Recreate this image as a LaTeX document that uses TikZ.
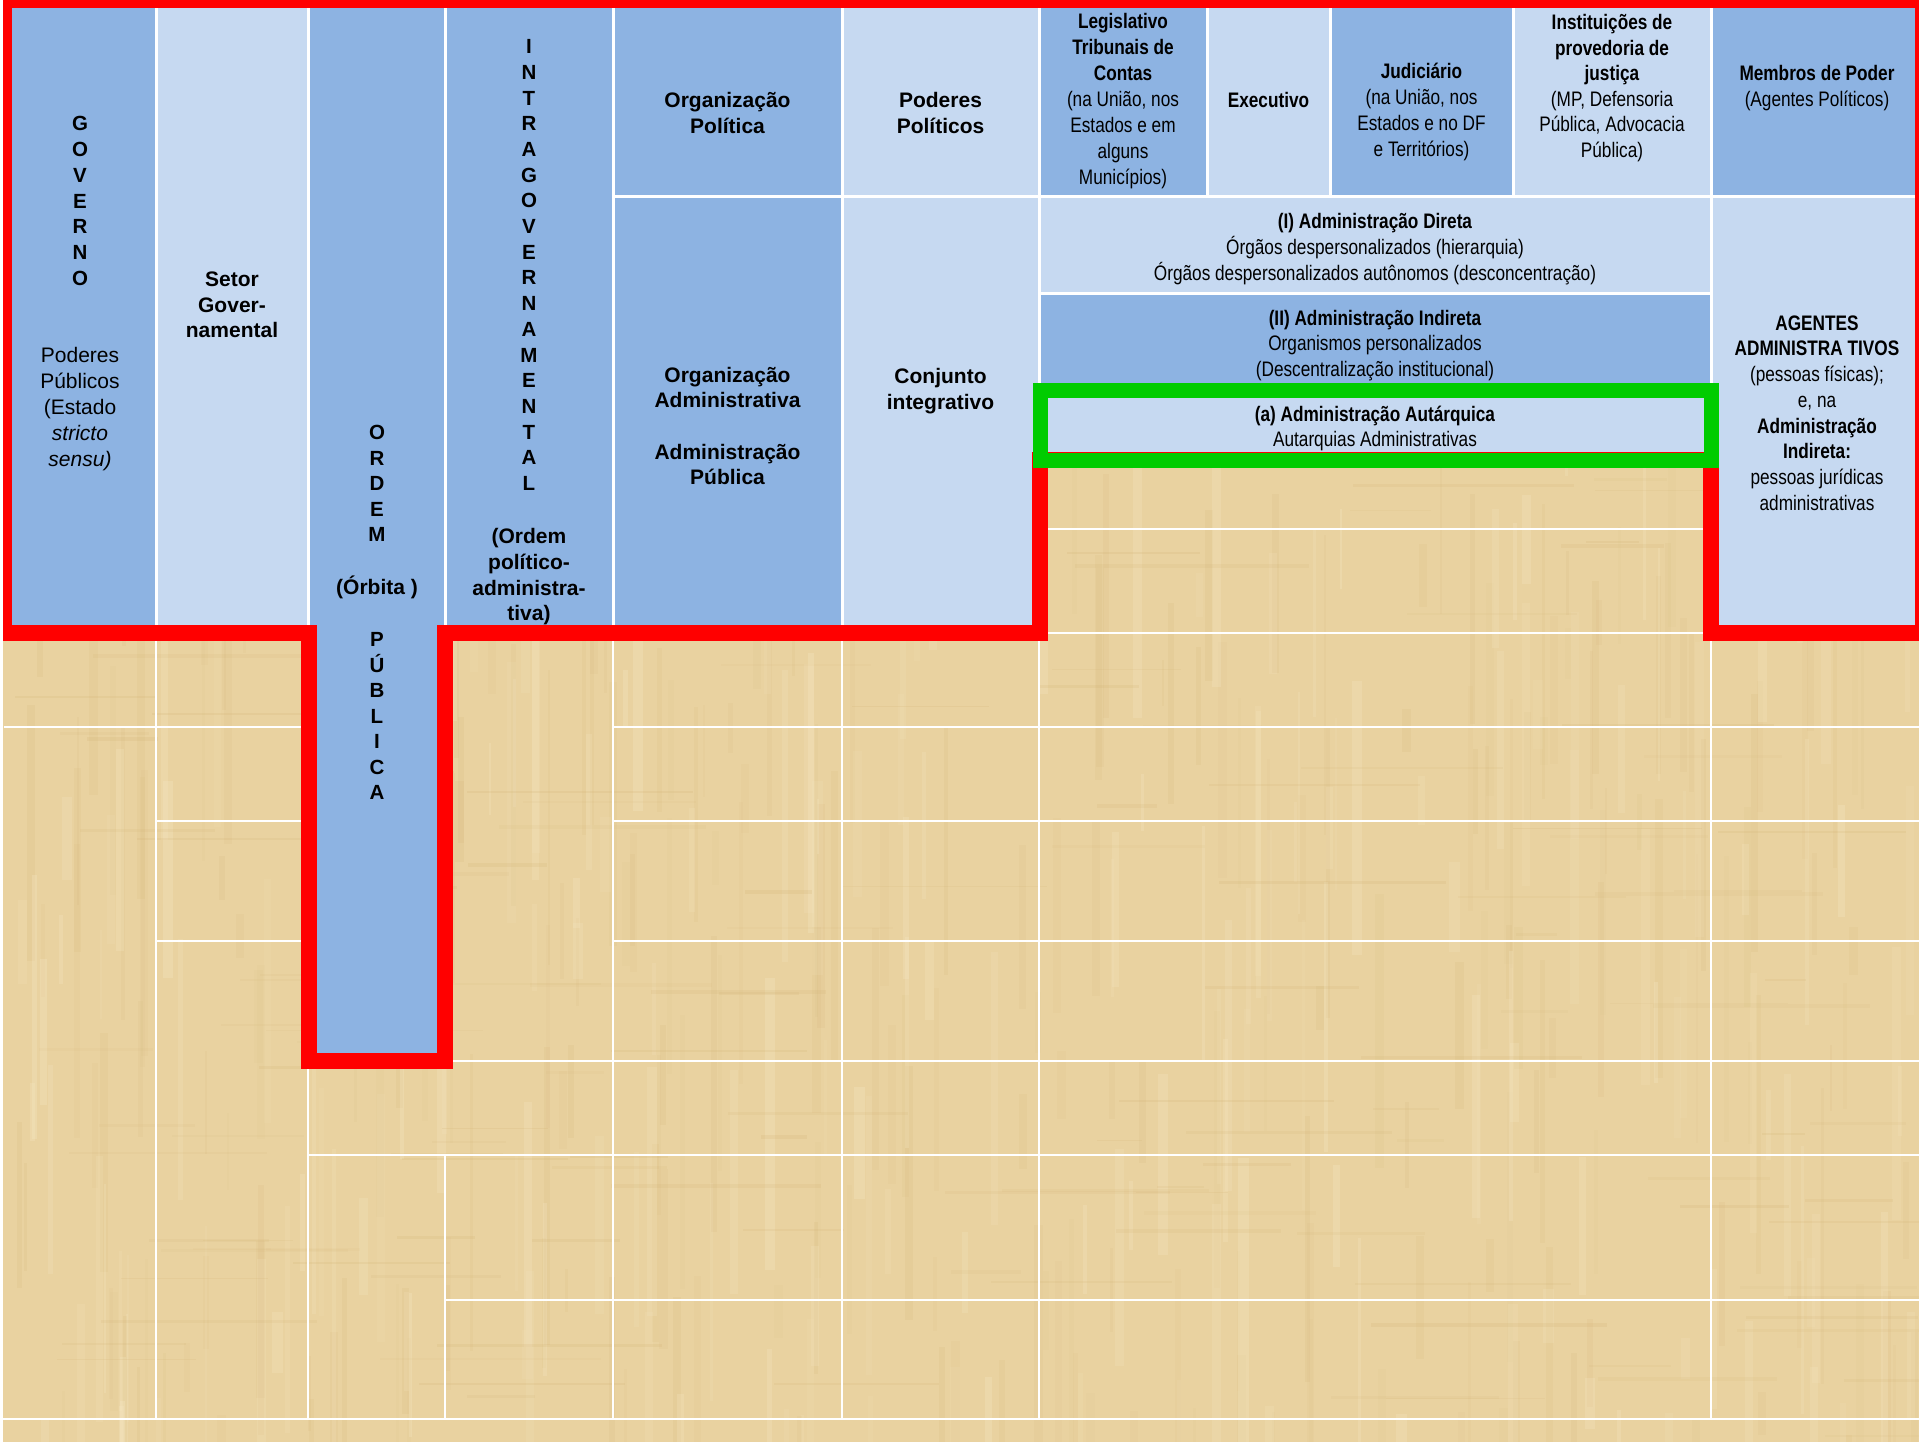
\documentclass[tikz,border=0pt]{standalone}
\usepackage{fontspec}
\setmainfont{Liberation Sans}
\newfontfamily\narrowfont[FakeStretch=0.82]{Liberation Sans}
\definecolor{dk}{HTML}{8DB3E2}
\definecolor{lt}{HTML}{C6D9F1}
\definecolor{sand}{HTML}{E9D2A0}
\definecolor{sandD}{HTML}{CFAE6E}
\definecolor{sandL}{HTML}{F6E8C4}
\definecolor{grn}{HTML}{00CC00}
\tikzset{
  cellD/.style={fill=dk, draw=white, line width=3pt},
  cellL/.style={fill=lt, draw=white, line width=3pt},
  gridline/.style={draw=white, line width=2pt},
  txt/.style={inner sep=0pt, align=center, font=\fontsize{21}{25.7}\selectfont},
  btxt/.style={inner sep=0pt, align=center, font=\bfseries\fontsize{21}{25.7}\selectfont},
  ntxt/.style={inner sep=0pt, align=center, font=\narrowfont\fontsize{21}{25.7}\selectfont},
  nbtxt/.style={inner sep=0pt, align=center, font=\narrowfont\bfseries\fontsize{21}{25.7}\selectfont},
  stack/.style={inner sep=0pt, align=center, font=\bfseries\fontsize{20.5}{25.7}\selectfont},
  redline/.style={draw=red, line width=16pt},
  greenline/.style={draw=grn, line width=15pt},
}
\begin{document}
\begin{tikzpicture}[x=1pt,y=-1pt]
\useasboundingbox (0,0) rectangle (1919,1442);
% background papyrus
\fill[white] (0,0) rectangle (1919,1442);
\fill[sand] (3,0) rectangle (1919,1442);
\pgfmathsetseed{12}
\foreach \i in {1,...,260}{
  \pgfmathsetmacro{\xa}{3+1910*rnd}
  \pgfmathsetmacro{\wa}{2+7*rnd}
  \pgfmathsetmacro{\ya}{400+1040*rnd}
  \pgfmathsetmacro{\ha}{40+260*rnd}
  \pgfmathsetmacro{\oa}{0.04+0.09*rnd}
  \fill[sandD,opacity=\oa] (\xa,\ya) rectangle ++(\wa,\ha);
}
\foreach \i in {1,...,200}{
  \pgfmathsetmacro{\xa}{3+1910*rnd}
  \pgfmathsetmacro{\wa}{2+9*rnd}
  \pgfmathsetmacro{\ya}{400+1040*rnd}
  \pgfmathsetmacro{\ha}{40+260*rnd}
  \pgfmathsetmacro{\oa}{0.10+0.2*rnd}
  \fill[sandL,opacity=\oa] (\xa,\ya) rectangle ++(\wa,\ha);
}
\foreach \i in {1,...,160}{
  \pgfmathsetmacro{\xa}{3+1850*rnd}
  \pgfmathsetmacro{\wa}{40+200*rnd}
  \pgfmathsetmacro{\ya}{400+1040*rnd}
  \pgfmathsetmacro{\ha}{1+3*rnd}
  \pgfmathsetmacro{\oa}{0.06+0.12*rnd}
  \fill[sandD,opacity=\oa] (\xa,\ya) rectangle ++(\wa,\ha);
}
% grid lines on the papyrus
\draw[gridline] (4,727) -- (308,727);
\draw[gridline] (613,727) -- (1919,727);
\draw[gridline] (156,821) -- (308,821);
\draw[gridline] (613,821) -- (1919,821);
\draw[gridline] (156,941) -- (308,941);
\draw[gridline] (613,941) -- (1919,941);
\draw[gridline] (445,1061) -- (1919,1061);
\draw[gridline] (308,1155) -- (1919,1155);
\draw[gridline] (445,1300) -- (1919,1300);
\draw[gridline] (3,1419) -- (1919,1419);
\draw[gridline] (1039,529) -- (1711,529);
\draw[gridline] (1039,633) -- (1711,633);
\draw[gridline] (156,633) -- (156,1419);
\draw[gridline] (308,1061) -- (308,1419);
\draw[gridline] (445,1155) -- (445,1419);
\draw[gridline] (613,633) -- (613,1419);
\draw[gridline] (842,633) -- (842,1419);
\draw[gridline] (1039,460) -- (1039,1419);
\draw[gridline] (1711,460) -- (1711,1419);
% cells
\path[cellD] (0,-10) rectangle (156,633);
\path[cellL] (156,-10) rectangle (308,633);
\path[cellD] (308,-10) rectangle (445,1061);
\path[cellD] (445,-10) rectangle (613,633);
\path[cellD] (613,-10) rectangle (842,197);
\path[cellL] (842,-10) rectangle (1039,197);
\path[cellD] (613,197) rectangle (842,633);
\path[cellL] (842,197) rectangle (1039,633);
\path[cellD] (1039,-10) rectangle (1207,197);
\path[cellL] (1207,-10) rectangle (1330,197);
\path[cellD] (1330,-10) rectangle (1513,197);
\path[cellL] (1513,-10) rectangle (1711,197);
\path[cellD] (1711,-10) rectangle (1930,197);
\path[cellL] (1711,197) rectangle (1930,633);
\path[cellL] (1039,197) rectangle (1711,293);
\path[cellD] (1039,293) rectangle (1711,390);
\path[cellL] (1039,390) rectangle (1711,460);
% texts
\node[stack] (govL) at (80,201) {G\\O\\V\\E\\R\\N\\O};
\node[txt,font=\fontsize{21}{26}\selectfont] (govT) at (80,409) {Poderes\\Públicos\\(Estado\\\textit{stricto}\\\textit{sensu)}};
\node[btxt] (setor) at (232,305) {Setor\\Gover-\\namental};
\node[stack,font=\bfseries\fontsize{20.5}{25.4}\selectfont] (ordemL) at (377,483.5) {O\\R\\D\\E\\M};
\node[btxt] (orbita) at (377,587) {(Órbita )};
\node[stack,font=\bfseries\fontsize{20.5}{25.5}\selectfont] (publica) at (377,716) {P\\Ú\\B\\L\\I\\C\\A};
\node[stack] (intraL) at (529,265) {I\\N\\T\\R\\A\\G\\O\\V\\E\\R\\N\\A\\M\\E\\N\\T\\A\\L};
\node[btxt] (intraT) at (529,577) {(Ordem\\político-\\administra-\\tiva)};
\node[btxt] (orgpol) at (727.5,112.7) {Organização\\Política};
\node[btxt] (podpol) at (940.5,112.7) {Poderes\\Políticos};
\node[btxt] (orgadm) at (727.5,426) {Organização\\Administrativa\\[25.7pt]Administração\\Pública};
\node[btxt] (conj) at (940.5,391) {Conjunto\\integrativo};
\node[ntxt,font=\narrowfont\fontsize{21}{26.1}\selectfont] (legis) at (1123,101) {\textbf{Legislativo}\\\textbf{Tribunais de}\\\textbf{Contas}\\(na União, nos\\Estados e em\\alguns\\Municípios)};
\node[nbtxt] (exec) at (1268.5,100) {Executivo};
\node[ntxt] (jud) at (1421.5,112) {\textbf{Judiciário}\\(na União, nos\\Estados e no DF\\e Territórios)};
\node[ntxt,font=\narrowfont\fontsize{21}{25.5}\selectfont] (inst) at (1612,88) {\textbf{Instituições de}\\\textbf{provedoria de}\\\textbf{justiça}\\(MP, Defensoria\\Pública, Advocacia\\Pública)};
\node[ntxt] (membros) at (1817,88) {\textbf{Membros de Poder}\\(Agentes Políticos)};
\node[ntxt] (direta) at (1375,249) {\textbf{(I) Administração Direta}\\Órgãos despersonalizados (hierarquia)\\Órgãos despersonalizados autônomos (desconcentração)};
\node[ntxt] (indireta) at (1375,345.5) {\textbf{(II) Administração Indireta}\\Organismos personalizados\\(Descentralização institucional)};
\node[ntxt] (autarq) at (1375,428.5) {\textbf{(a) Administração Autárquica}\\Autarquias Administrativas};
\node[ntxt] (agentes) at (1817,413) {\textbf{AGENTES}\\\textbf{ADMINISTRA TIVOS}\\(pessoas físicas);\\e, na\\\textbf{Administração}\\\textbf{Indireta:}\\pessoas jurídicas\\administrativas};
% red outline and green box
\draw[redline] (4,0) -- (1923,0) -- (1923,633) -- (1711,633) -- (1711,460) -- (1040,460) -- (1040,633) -- (445,633) -- (445,1061) -- (309,1061) -- (309,633) -- (4,633) -- cycle;
\draw[greenline] (1040,390) rectangle (1711,460);
\fill[white] (0,0) rectangle (3,1442);
\end{tikzpicture}
\end{document}
